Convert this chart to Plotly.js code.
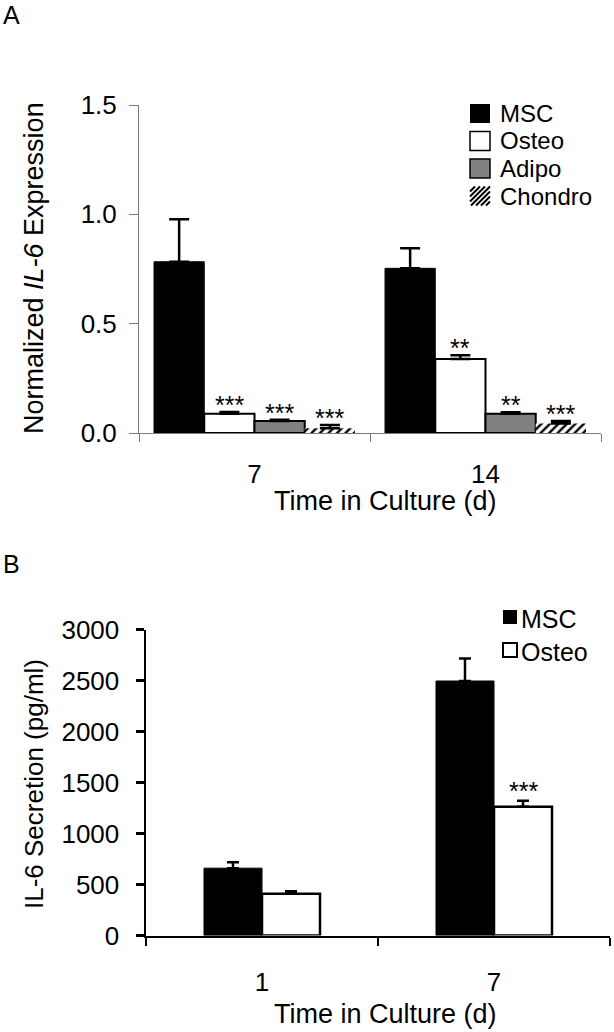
<!DOCTYPE html>
<html>
<head>
<meta charset="utf-8">
<script src="https://cdn.plot.ly/plotly-3.0.1.min.js"></script>
<style>
  html, body { margin: 0; padding: 0; background: #fff; }
  #chartA { width: 614px; height: 520px; }
  #chartB { width: 614px; height: 512px; }
</style>
</head>
<body>
<div id="chartA"></div>
<div id="chartB"></div>
<script>
// ---------- Data: panel A (normalized IL-6 expression) ----------
const daysA = ['7', '14'];
const seriesA = ['MSC', 'Osteo', 'Adipo', 'Chondro'];
const mscA = [0.783, 0.753];
const mscErrA = [0.194, 0.092];
const osteoA = [0.088, 0.338];
const osteoErrA = [0.008, 0.018];
const adipoA = [0.055, 0.088];
const adipoErrA = [0.006, 0.007];
const chondroA = [0.022, 0.044];
const chondroErrA = [0.015, 0.011];
const mscSigA = ['', ''];
const osteoSigA = ['***', '**'];
const adipoSigA = ['***', '**'];
const chondroSigA = ['***', '***'];
const yTicksA = [0, 0.5, 1.0, 1.5];

// ---------- Data: panel B (IL-6 secretion) ----------
const daysB = ['1', '7'];
const seriesB = ['MSC', 'Osteo'];
const mscB = [660, 2495];
const mscErrB = [58, 220];
const osteoB = [410, 1263];
const osteoErrB = [23, 58];
const mscSigB = ['', ''];
const osteoSigB = ['', '***'];
const yTicksB = [0, 500, 1000, 1500, 2000, 2500, 3000];

// ---------- Styles ----------
const FONT = 'Liberation Sans, Arial, Helvetica, sans-serif';
const W = 614;
const styleA = [
  {color: '#000000', line: {color: '#000000', width: 1}},
  {color: '#ffffff', line: {color: '#000000', width: 2}},
  {color: '#808080', line: {color: '#000000', width: 2}},
  {color: '#ffffff', line: {color: '#ffffff', width: 0},
   pattern: {shape: '/', fgcolor: '#000000', bgcolor: '#ffffff', size: 6, solidity: 0.4}}
];
const styleB = [
  {color: '#000000', line: {color: '#000000', width: 1}},
  {color: '#ffffff', line: {color: '#000000', width: 2.5}}
];

function barTrace(name, x, y, err, marker, errW, errT) {
  return {
    type: 'bar', name: name, x: x, y: y, marker: marker,
    showlegend: false, hoverinfo: 'x+y+name',
    error_y: {type: 'data', symmetric: false, array: err,
              arrayminus: err.map(() => 0), color: '#000000',
              thickness: errT, width: errW, visible: true}
  };
}

// ================= Panel A =================
const HA = 520;
const gapA = 0.13;
const valsA = [mscA, osteoA, adipoA, chondroA];
const errsA = [mscErrA, osteoErrA, adipoErrA, chondroErrA];
const sigsA = [mscSigA, osteoSigA, adipoSigA, chondroSigA];
const tracesA = seriesA.map((s, i) => barTrace(s, daysA, valsA[i], errsA[i], styleA[i], 10, 2.5));

const annA = [];
const shapesA = [];
const nA = seriesA.length;
const bwA = (1 - gapA) / nA;
seriesA.forEach((s, i) => {
  daysA.forEach((d, j) => {
    if (sigsA[i][j]) {
      annA.push({
        xref: 'x', yref: 'y', x: j - (1 - gapA) / 2 + bwA * (i + 0.5),
        y: valsA[i][j] + errsA[i][j], text: sigsA[i][j], showarrow: false,
        xanchor: 'center', yanchor: 'middle', yshift: 7,
        font: {family: FONT, size: 25, color: '#000'}
      });
    }
  });
});

// legend A (manual, large swatches)
const legRowsA = [113.5, 141, 168.5, 196];
const legSwX0 = 470, legSwX1 = 490, legSwH = 19;
const px = v => v / W, pyA = v => 1 - v / HA;
seriesA.forEach((s, i) => {
  const cy = legRowsA[i];
  const y0 = pyA(cy + legSwH / 2), y1 = pyA(cy - legSwH / 2);
  if (i < 3) {
    shapesA.push({type: 'rect', xref: 'paper', yref: 'paper',
      x0: px(legSwX0), x1: px(legSwX1), y0: y0, y1: y1,
      fillcolor: styleA[i].color, line: {color: '#000', width: i === 0 ? 0 : 1.5}});
  } else {
    let path = '';
    const step = 5;
    const top = cy - legSwH / 2, bot = cy + legSwH / 2;
    for (let k = -legSwH; k < (legSwX1 - legSwX0); k += step) {
      let xa = legSwX0 + k, ya = bot, xb = legSwX0 + k + legSwH, yb = top;
      if (xa < legSwX0) { ya = bot - (legSwX0 - xa); xa = legSwX0; }
      if (xb > legSwX1) { yb = top + (xb - legSwX1); xb = legSwX1; }
      if (xb > xa) path += `M${px(xa)},${pyA(ya)} L${px(xb)},${pyA(yb)} `;
    }
    shapesA.push({type: 'path', xref: 'paper', yref: 'paper', path: path,
      line: {color: '#000', width: 2}});
  }
  annA.push({xref: 'paper', yref: 'paper', x: px(498), y: pyA(cy), text: s,
    showarrow: false, xanchor: 'left', yanchor: 'middle',
    font: {family: FONT, size: 24, color: '#000'}});
});

annA.push({xref: 'paper', yref: 'paper', x: px(1), y: pyA(15), text: 'A',
  showarrow: false, xanchor: 'left', yanchor: 'middle',
  font: {family: FONT, size: 25, color: '#000'}});
annA.push({xref: 'paper', yref: 'paper', x: px(34), y: pyA(268),
  text: 'Normalized <i>IL-6</i> Expression', textangle: -90, showarrow: false,
  xanchor: 'center', yanchor: 'middle', font: {family: FONT, size: 27, color: '#000'}});
annA.push({xref: 'paper', yref: 'paper', x: px(386), y: pyA(501),
  text: 'Time in Culture (d)', showarrow: false,
  xanchor: 'center', yanchor: 'middle', font: {family: FONT, size: 27, color: '#000'}});

const layoutA = {
  width: W, height: HA, margin: {l: 0, r: 0, t: 0, b: 0},
  paper_bgcolor: '#fff', plot_bgcolor: '#fff',
  barmode: 'group', bargap: gapA, bargroupgap: 0,
  showlegend: false,
  font: {family: FONT, color: '#000'},
  xaxis: {domain: [139 / W, 601 / W], type: 'category', showline: true,
    linecolor: '#7a7a7a', linewidth: 1, ticks: 'outside', tickson: 'boundaries',
    ticklen: 8, tickcolor: '#7a7a7a', tickwidth: 1, showgrid: false, zeroline: false,
    tickfont: {family: FONT, size: 26, color: '#000'}, ticklabelstandoff: 18,
    fixedrange: true},
  yaxis: {domain: [pyA(433), pyA(105)], range: [0, 1.5], tickvals: yTicksA,
    tickformat: '.1f', showline: true, linecolor: '#7a7a7a', linewidth: 1,
    ticks: 'outside', ticklen: 9, tickcolor: '#7a7a7a', tickwidth: 1,
    showgrid: false, zeroline: false, ticklabelstandoff: 7,
    tickfont: {family: FONT, size: 26, color: '#000'}, fixedrange: true},
  annotations: annA,
  shapes: shapesA
};

Plotly.newPlot('chartA', tracesA, layoutA, {staticPlot: true, displayModeBar: false});

// ================= Panel B =================
const HB = 512;
const gapB = 0.5;
const valsB = [mscB, osteoB];
const errsB = [mscErrB, osteoErrB];
const sigsB = [mscSigB, osteoSigB];
const tracesB = seriesB.map((s, i) => barTrace(s, daysB, valsB[i], errsB[i], styleB[i], 6, 2.5));
const pyB = v => 1 - v / HB;
const annB = [];
const shapesB = [];
const nB = seriesB.length;
const bwB = (1 - gapB) / nB;
seriesB.forEach((s, i) => {
  daysB.forEach((d, j) => {
    if (sigsB[i][j]) {
      annB.push({
        xref: 'x', yref: 'y', x: j - (1 - gapB) / 2 + bwB * (i + 0.5),
        y: valsB[i][j] + errsB[i][j], text: sigsB[i][j], showarrow: false,
        xanchor: 'center', yanchor: 'middle', yshift: 10,
        font: {family: FONT, size: 25, color: '#000'}
      });
    }
  });
});
const legRowsB = [97, 130];
const legTextB = [99, 132];
seriesB.forEach((s, i) => {
  const cy = legRowsB[i];
  shapesB.push({type: 'rect', xref: 'paper', yref: 'paper',
    x0: px(503), x1: px(517), y0: pyB(cy + 7), y1: pyB(cy - 7),
    fillcolor: styleB[i].color, line: {color: '#000', width: i === 0 ? 0 : 2}});
  annB.push({xref: 'paper', yref: 'paper', x: px(519), y: pyB(legTextB[i]), text: s,
    showarrow: false, xanchor: 'left', yanchor: 'middle',
    font: {family: FONT, size: 25, color: '#000'}});
});
annB.push({xref: 'paper', yref: 'paper', x: px(1), y: pyB(44), text: 'B',
  showarrow: false, xanchor: 'left', yanchor: 'middle',
  font: {family: FONT, size: 25, color: '#000'}});
annB.push({xref: 'paper', yref: 'paper', x: px(34), y: pyB(264),
  text: 'IL-6 Secretion (pg/ml)', textangle: -90, showarrow: false,
  xanchor: 'center', yanchor: 'middle', font: {family: FONT, size: 26, color: '#000'}});
annB.push({xref: 'paper', yref: 'paper', x: px(386), y: pyB(494),
  text: 'Time in Culture (d)', showarrow: false,
  xanchor: 'center', yanchor: 'middle', font: {family: FONT, size: 27, color: '#000'}});

const layoutB = {
  width: W, height: HB, margin: {l: 0, r: 0, t: 0, b: 0},
  paper_bgcolor: '#fff', plot_bgcolor: '#fff',
  barmode: 'group', bargap: gapB, bargroupgap: 0,
  showlegend: false,
  font: {family: FONT, color: '#000'},
  xaxis: {domain: [146 / W, 610 / W], type: 'category', showline: true,
    linecolor: '#000', linewidth: 2.5, ticks: 'outside', tickson: 'boundaries',
    ticklen: 8, tickcolor: '#000', tickwidth: 2.5, showgrid: false, zeroline: false,
    tickfont: {family: FONT, size: 26, color: '#000'}, ticklabelstandoff: 22,
    fixedrange: true},
  yaxis: {domain: [pyB(415.5), pyB(109.5)], range: [0, 3000], tickvals: yTicksB,
    showline: true, linecolor: '#000', linewidth: 2.5,
    ticks: 'outside', ticklen: 8, tickcolor: '#000', tickwidth: 2.5,
    showgrid: false, zeroline: false, ticklabelstandoff: 11,
    tickfont: {family: FONT, size: 26, color: '#000'}, fixedrange: true},
  annotations: annB,
  shapes: shapesB
};

Plotly.newPlot('chartB', tracesB, layoutB, {staticPlot: true, displayModeBar: false});
</script>
</body>
</html>
